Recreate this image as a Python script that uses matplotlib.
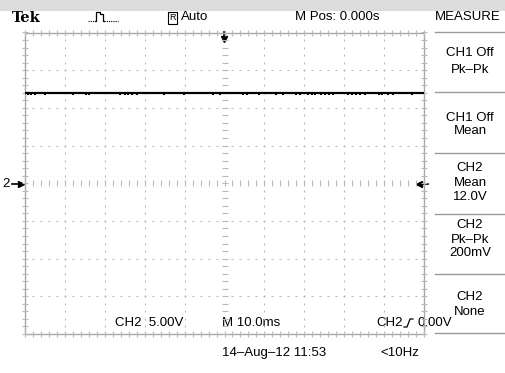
import matplotlib
matplotlib.use("Agg")
import matplotlib.pyplot as plt
import numpy as np

# scope settings
VOLTS_PER_DIV = 5.0
MS_PER_DIV = 10.0
N_XDIV = 10
N_YDIV = 8

# CH2 trace: flat DC level with a few small dips along the sweep
trace_t_ms = [-50.0, 50.0]
trace_v = [12.0, 12.0]
dip_t_ms = [-49.2, -48.5, -47.5, -45.0, -38.0, -34.7, -34.0, -26.2, -24.9,
            -24.2, -23.2, -21.9, -15.2, -10.2, -2.9, -1.1, 4.6, 5.6, 8.6,
            12.9, 14.7, 17.9, 18.9, 20.9, 21.9, 22.7, 24.2, 25.2, 26.2, 27.2,
            31.0, 32.0, 33.0, 34.0, 35.2, 38.7, 39.5, 41.0, 42.2, 47.0]
dip_low_v = 11.8

# measurement menu, one block per soft key
measure_blocks = [
    ["CH1 Off", "Pk\u2013Pk"],
    ["CH1 Off", "Mean"],
    ["CH2", "Mean", "12.0V"],
    ["CH2", "Pk\u2013Pk", "200mV"],
    ["CH2", "None"],
]

SANS = ["Liberation Sans", "DejaVu Sans"]
FS = 9.5
GRID = "#b8b8b8"
EDGE = "#a8a8a8"

W, H = 505, 373
fig = plt.figure(figsize=(W / 100, H / 100), dpi=100)
fig.patch.set_facecolor("white")

# full-figure overlay in pixel units for the screen furniture
fx = fig.add_axes([0, 0, 1, 1])
fx.set_xlim(0, W)
fx.set_ylim(H, 0)
fx.axis("off")

# faint watermark band across the top
fx.add_patch(plt.Rectangle((0, 0), W, 11, color="#dcdcdc", lw=0, zorder=0))

# graticule area
gx0, gx1, gy0, gy1 = 25, 424, 32.5, 334
ax = fig.add_axes([gx0 / W, 1 - gy1 / H, (gx1 - gx0) / W, (gy1 - gy0) / H])
ax.set_xlim(0, N_XDIV)
ax.set_ylim(-N_YDIV / 2, N_YDIV / 2)
ax.axis("off")
ax.patch.set_alpha(0)

# border
ax.plot([0, N_XDIV, N_XDIV, 0, 0], [-4, -4, 4, 4, -4], color=EDGE, lw=1.0,
        clip_on=False, zorder=1)

minor_x = np.arange(0, N_XDIV + 0.01, 0.2)
minor_y = np.arange(-4, 4.01, 0.2)

# dotted division lines
for gx in range(1, N_XDIV):
    if gx == 5:
        continue
    ax.plot(np.full_like(minor_y, gx), minor_y, ls="none", marker="|",
            ms=2, mew=0.8, color=GRID, zorder=1)
for gy in range(-3, 4):
    if gy == 0:
        continue
    ax.plot(minor_x, np.full_like(minor_x, gy), ls="none", marker="_",
            ms=2, mew=0.8, color=GRID, zorder=1)

# centre axes with minor ticks
ax.plot(minor_x, np.zeros_like(minor_x), ls="none", marker="|", ms=5,
        mew=0.8, color=GRID, zorder=1)
ax.plot(np.full_like(minor_y, 5), minor_y, ls="none", marker="_", ms=5,
        mew=0.8, color=GRID, zorder=1)

# edge ticks
for yy in (-4, 4):
    ax.plot(minor_x, np.full_like(minor_x, yy), ls="none", marker="|",
            ms=4, mew=0.8, color=GRID, zorder=1, clip_on=False)
for xx in (0, N_XDIV):
    ax.plot(np.full_like(minor_y, xx), minor_y, ls="none", marker="_",
            ms=4, mew=0.8, color=GRID, zorder=1, clip_on=False)


def t_to_div(t):
    return np.asarray(t) / MS_PER_DIV + N_XDIV / 2


def v_to_div(v):
    return np.asarray(v) / VOLTS_PER_DIV


ax.plot(t_to_div(trace_t_ms), v_to_div(trace_v), color="black", lw=1.6,
        zorder=3, solid_capstyle="butt")
ax.plot(t_to_div(dip_t_ms), np.full(len(dip_t_ms), v_to_div(dip_low_v)),
        ls="none", marker="s", ms=1.5, mew=0, color="black", zorder=3)

# top status line
fx.text(12, 18, "Tek", family="DejaVu Serif", weight="bold", fontsize=10.5,
        va="center", ha="left")
fx.plot([88, 95], [21, 21], color="black", lw=0.8, ls=(0, (1, 1)))
fx.plot([95, 96, 96, 100, 100, 103, 103, 104],
        [21, 21, 12, 12, 14, 14, 21, 21], color="black", lw=0.9)
fx.plot([104, 118], [21, 21], color="black", lw=0.8, ls=(0, (1, 1)))
fx.text(172.5, 18, "R", family=SANS, fontsize=6.5, va="center", ha="center",
        bbox=dict(boxstyle="square,pad=0.15", fc="white", ec="black", lw=0.8))
fx.text(181, 17, "Auto", family=SANS, fontsize=FS, va="center", ha="left")
fx.text(295, 17, "M Pos: 0.000s", family=SANS, fontsize=FS, va="center",
        ha="left")
fx.text(468, 17, "MEASURE", family=SANS, fontsize=FS, va="center",
        ha="center")

# trigger position marker
fx.plot([224, 224], [32, 37], color="black", lw=1.2)
fx.plot([224], [39], marker="v", ms=5, color="black")

# ground marker and trigger level marker
fx.text(2, 184, "2", family=SANS, fontsize=FS, va="center", ha="left")
fx.plot([12, 20], [184, 184], color="black", lw=1.2)
fx.plot([21], [184], marker=">", ms=5, color="black")
fx.plot([420, 428], [184, 184], color="black", lw=1.2)
fx.plot([419], [184], marker="<", ms=5, color="black")

# measurement menu
sep_y = [32, 92, 153, 214, 274, 333]
for y in sep_y:
    fx.plot([435, W], [y, y], color="#9a9a9a", lw=1.0)
line_y = [[53, 70], [118, 131], [168, 183, 197], [225, 240, 253], [297, 312]]
for block, ys in zip(measure_blocks, line_y):
    for txt, y in zip(block, ys):
        fx.text(470, y, txt, family=SANS, fontsize=FS, va="center",
                ha="center")

# bottom status lines
fx.text(115, 323, "CH2  5.00V", family=SANS, fontsize=FS, va="center",
        ha="left")
fx.text(222, 323, "M 10.0ms", family=SANS, fontsize=FS, va="center",
        ha="left")
fx.text(222, 353, "14\u2013Aug\u201312 11:53", family=SANS, fontsize=FS,
        va="center", ha="left")
fx.text(376, 323, "CH2", family=SANS, fontsize=FS, va="center", ha="left")
fx.plot([404, 407, 410, 413], [327, 327, 319, 319], color="black", lw=0.9)
fx.text(417, 323, "0.00V", family=SANS, fontsize=FS, va="center", ha="left")
fx.text(380, 353, "<10Hz", family=SANS, fontsize=FS, va="center", ha="left")

fig.savefig("out.png", dpi=100, facecolor="white")
